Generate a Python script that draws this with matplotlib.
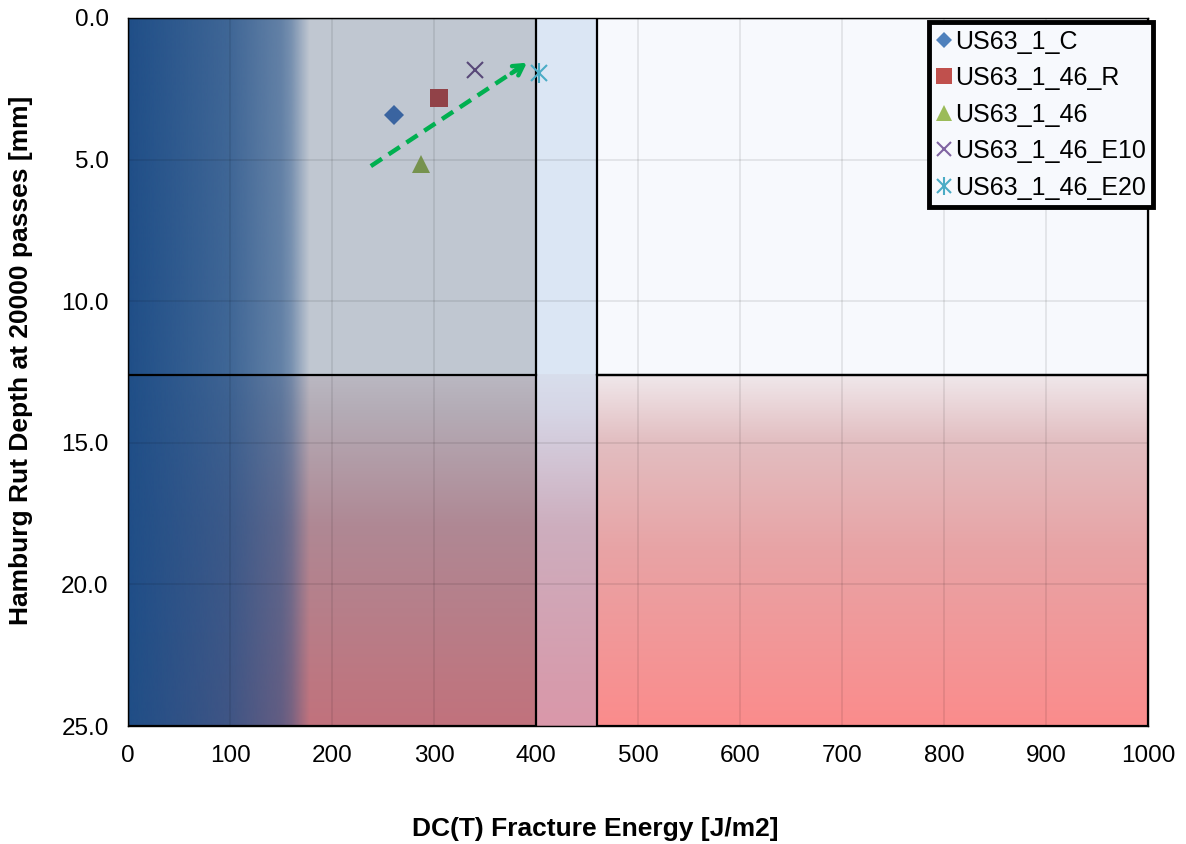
import numpy as np
import matplotlib
matplotlib.use("Agg")
import matplotlib.pyplot as plt
from matplotlib.lines import Line2D

plt.rcParams['font.family'] = ['Liberation Sans', 'DejaVu Sans']

# data
names = ["US63_1_C", "US63_1_46_R", "US63_1_46", "US63_1_46_E10", "US63_1_46_E20"]
energy = [261, 305, 287, 340, 403]
rut = [3.43, 2.81, 5.16, 1.84, 1.95]
plot_colors = ["#3a64a0", "#914248", "#76924e", "#584878", "#4bacc6"]
legend_colors = ["#4F81BD", "#C0504D", "#9BBB59", "#8064A2", "#4BACC6"]

arrow_start = (238, 5.23)
arrow_end = (391, 1.58)

x_split = [400, 460]     # fracture energy limits
y_split = 12.6           # rut depth limit

fig = plt.figure(figsize=(11.86, 8.44), dpi=100)
ax = fig.add_axes([0.108, 0.1398, 0.860, 0.8389])


def vgrad(stops_t, stops_c, n=200):
    t = np.linspace(0, 1, n)
    c = np.array(stops_c, dtype=float) / 255
    img = np.stack([np.interp(t, stops_t, c[:, k]) for k in range(3)], axis=-1)
    return img[:, None, :]


def solid(c):
    return np.array(c, dtype=float).reshape(1, 1, 3) / 255


# upper zones
ax.imshow(solid((192, 199, 209)), extent=(0, x_split[0], y_split, 0), aspect='auto', zorder=0)
ax.imshow(solid((219, 230, 244)), extent=(x_split[0], x_split[1], y_split, 0), aspect='auto', zorder=0)
ax.imshow(solid((247, 249, 253)), extent=(x_split[1], 1000, y_split, 0), aspect='auto', zorder=0)

# lower zones, vertical gradients
ax.imshow(vgrad([0, 0.1, 0.43, 0.9, 1],
                [(186, 184, 194), (180, 172, 182), (175, 136, 148), (190, 118, 128), (193, 114, 125)]),
          extent=(0, x_split[0], 25, y_split), origin='upper', aspect='auto', zorder=0, interpolation='bilinear')
ax.imshow(vgrad([0, 0.1, 0.43, 0.9, 1],
                [(216, 222, 236), (214, 214, 230), (205, 174, 190), (215, 155, 172), (218, 152, 170)]),
          extent=(x_split[0], x_split[1], 25, y_split), origin='upper', aspect='auto', zorder=0, interpolation='bilinear')
ax.imshow(vgrad([0, 0.19, 0.5, 1],
                [(240, 232, 235), (226, 190, 193), (232, 163, 165), (251, 140, 140)]),
          extent=(x_split[1], 1000, 25, y_split), origin='upper', aspect='auto', zorder=0, interpolation='bilinear')

# blue horizontal fade on the left
xs = np.linspace(0, 180, 360)
alpha = np.interp(xs, [0, 100, 150, 160, 178, 180], [1, 0.8, 0.58, 0.45, 0, 0])
blue = np.zeros((1, len(xs), 4))
blue[..., 0] = 31 / 255
blue[..., 1] = 78 / 255
blue[..., 2] = 135 / 255
blue[..., 3] = alpha
ax.imshow(blue, extent=(0, 180, 25, 0), aspect='auto', zorder=0.5, interpolation='bilinear')

# zone borders
lw = 1.6
ax.plot([0, x_split[0], x_split[0], 0, 0], [0, 0, 25, 25, 0], color='black', lw=lw, zorder=3)
ax.plot([x_split[1], 1000, 1000, x_split[1], x_split[1]], [0, 0, y_split, y_split, 0], color='black', lw=lw, zorder=3)
ax.plot([x_split[1], 1000, 1000, x_split[1], x_split[1]], [y_split, y_split, 25, 25, y_split], color='black', lw=lw, zorder=3)
ax.plot([0, x_split[0]], [y_split, y_split], color='black', lw=lw, zorder=3)

# points
markers = ['D', 's', '^', 'x', 'x']
sizes = [10, 13, 13, 12, 11]
for i in range(len(names)):
    ax.plot(energy[i], rut[i], linestyle='none', marker=markers[i], markersize=sizes[i],
            color=plot_colors[i], markeredgewidth=1.5 if markers[i] == 'x' else 0, zorder=4)
ax.plot(energy[4], rut[4], linestyle='none', marker='|', markersize=15, color=plot_colors[4],
        markeredgewidth=1.5, zorder=4)

# trend arrow
ax.plot([arrow_start[0], arrow_end[0] - 6], [arrow_start[1], arrow_end[1] + 0.15], color='#00b050',
        lw=3.2, linestyle=(0, (3, 1.8)), zorder=5)
ax.annotate("", xy=arrow_end, xytext=(arrow_end[0] - 15, arrow_end[1] + 0.37),
            arrowprops=dict(arrowstyle='->,head_length=0.7,head_width=0.4', color='#00b050', lw=3.2,
                            shrinkA=0, shrinkB=0), zorder=5)

ax.set_xlim(0, 1000)
ax.set_ylim(25, 0)
ax.set_xticks(np.arange(0, 1001, 100))
ax.set_yticks(np.arange(0, 26, 5))
ax.set_yticklabels([f"{v:.1f}" for v in np.arange(0, 26, 5)])
ax.tick_params(length=0, labelsize=17.5, pad=14)
ax.grid(True, color='black', alpha=0.1, lw=1.1)
ax.set_axisbelow(False)
for s in ax.spines.values():
    s.set_color('black')
    s.set_linewidth(1.0)
    s.set_zorder(3)

ax.set_xlabel("DC(T) Fracture Energy [J/m2]", fontsize=19, fontweight='bold')
ax.set_ylabel("Hamburg Rut Depth at 20000 passes [mm]", fontsize=19, fontweight='bold')
ax.xaxis.set_label_coords(0.458, -0.128)
ax.yaxis.set_label_coords(-0.093, 0.516)

handles = []
for i in range(4):
    handles.append(Line2D([], [], linestyle='none', marker=markers[i], markersize=sizes[i] * 0.85,
                          color=legend_colors[i], markeredgewidth=1.5 if markers[i] == 'x' else 0))
h_a = Line2D([], [], linestyle='none', marker='x', markersize=10, color=legend_colors[4], markeredgewidth=1.5)
h_b = Line2D([], [], linestyle='none', marker='|', markersize=13, color=legend_colors[4], markeredgewidth=1.5)
handles.append((h_a, h_b))

leg = ax.legend(handles, names, loc='upper right', bbox_to_anchor=(1.005, 0.994), borderaxespad=0,
                fontsize=18, handlelength=0.6, handletextpad=0.12, labelspacing=0.5,
                borderpad=0.3, fancybox=False, framealpha=1, facecolor='#f7f9fd', edgecolor='black')
leg.get_frame().set_linewidth(3.5)
leg.set_zorder(6)

fig.savefig("out.png", dpi=100)
